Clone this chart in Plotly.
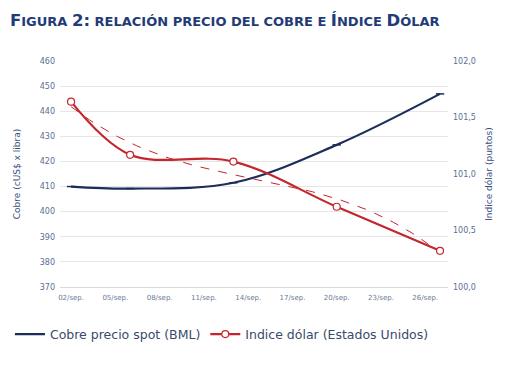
import numpy as np
import plotly.graph_objects as go

dates = ["2013-09-02", "2013-09-06", "2013-09-13", "2013-09-20", "2013-09-27"]
cobre = [410.0, 409.2, 411.5, 426.6, 446.9]
indice = [101.64, 101.17, 101.11, 100.71, 100.32]

tick_dates = ["2013-09-02", "2013-09-05", "2013-09-08", "2013-09-11", "2013-09-14",
              "2013-09-17", "2013-09-20", "2013-09-23", "2013-09-26"]
tick_labels = ["02/sep.", "05/sep.", "08/sep.", "11/sep.", "14/sep.",
               "17/sep.", "20/sep.", "23/sep.", "26/sep."]

# polynomial trendline (order 3) of the dollar index, as in the source spreadsheet
d = np.array([(np.datetime64(x) - np.datetime64(dates[0])).astype(int) for x in dates], dtype=float)
coef = np.polyfit(d, np.array(indice), 3)
td = np.linspace(d[0], d[-1], 80)
trend_x = [np.datetime64(dates[0]) + np.timedelta64(int(round(v * 24 * 60)), "m") for v in td]
trend_y = np.polyval(coef, td)

NAVY = "#1C2D5C"
RED = "#C4262E"
TXT = "#3A5080"

fig = go.Figure()
fig.add_trace(go.Scatter(
    x=trend_x, y=trend_y, yaxis="y2", mode="lines", showlegend=False,
    line=dict(color=RED, width=1, dash="dash"), hoverinfo="skip"))
fig.add_trace(go.Scatter(
    x=dates, y=cobre, name="Cobre precio spot (BML)", mode="lines+markers",
    line=dict(color=NAVY, width=2.2, shape="spline"),
    marker=dict(symbol="line-ew", size=6, line=dict(color=NAVY, width=1.5))))
fig.add_trace(go.Scatter(
    x=dates, y=indice, name="Indice dólar (Estados Unidos)", mode="lines+markers",
    yaxis="y2",
    line=dict(color=RED, width=2.2, shape="spline"),
    marker=dict(symbol="circle", size=7, color="white", line=dict(color=RED, width=1.2))))

title = ("<b><span style='font-size:16.5px'>F</span>IGURA <span style='font-size:16.5px'>2:</span> "
         "RELACIÓN PRECIO DEL COBRE E <span style='font-size:16.5px'>Í</span>NDICE "
         "<span style='font-size:16.5px'>D</span>ÓLAR</b>")

fig.add_annotation(text=title, xref="paper", yref="paper", x=-0.134, y=1.181,
                   xanchor="left", yanchor="middle", showarrow=False,
                   font=dict(family="DejaVu Sans", size=13, color="#1F3C78"))

fig.update_layout(
    width=510, height=369,
    margin=dict(l=52, r=70, t=53, b=90, autoexpand=False),
    paper_bgcolor="white", plot_bgcolor="white",
    separators=",.",
    font=dict(family="DejaVu Sans", color=TXT),
    xaxis=dict(
        type="date", range=["2013-09-01 06:00", "2013-09-27 13:00"],
        tickvals=tick_dates, ticktext=tick_labels, automargin=False,
        tickfont=dict(size=7, color="#6A7A96"), ticklabelstandoff=4,
        showgrid=False, showline=True, linecolor="#D9D9D9", linewidth=1,
        ticks="", zeroline=False),
    yaxis=dict(
        range=[370, 460], dtick=10, tickfont=dict(size=8, color="#5A6E94"),
        showgrid=True, gridcolor="#E6E6E6", zeroline=False, automargin=False,
        ticklabelstandoff=4,
        title=dict(text="Cobre (cUS$ x libra)", font=dict(size=9, color=TXT), standoff=17)),
    yaxis2=dict(
        range=[100, 102], dtick=0.5, tickformat=".1f", overlaying="y", side="right",
        tickfont=dict(size=8, color="#5A6E94"), showgrid=False, zeroline=False,
        automargin=False, ticklabelstandoff=4,
        title=dict(text="Indice dólar (puntos)", font=dict(size=9, color=TXT), standoff=10)),
    legend=dict(orientation="h", x=-0.129, y=-0.21, xanchor="left", yanchor="middle",
                font=dict(size=12.5, color="#3A4A6A"), itemwidth=30,
                traceorder="normal", bgcolor="rgba(0,0,0,0)"),
)

fig.write_html("out.html")
